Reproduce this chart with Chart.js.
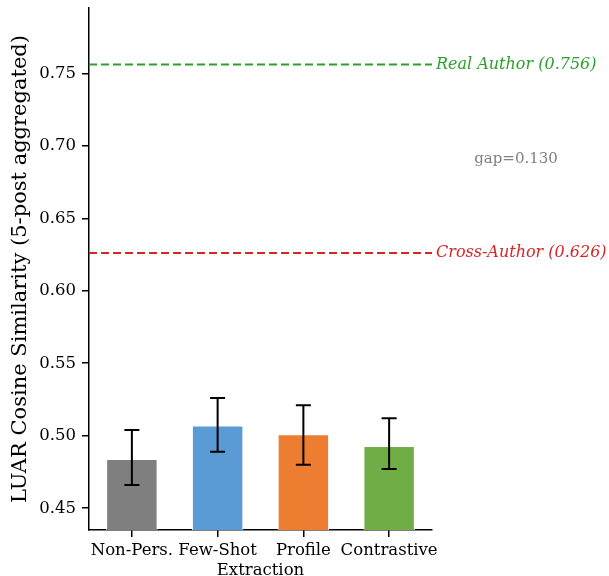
<!DOCTYPE html>
<html>
<head>
<meta charset="utf-8">
<script src="https://cdn.jsdelivr.net/npm/chart.js@4/dist/chart.umd.min.js"></script>
<style>
  html, body { margin: 0; padding: 0; background: #fff; }
  #wrap { width: 609px; height: 576px; }
</style>
</head>
<body>
<div id="wrap"><canvas id="chart" width="609" height="576"></canvas></div>
<script>
// categories and values
const categories = ["Non-Pers.", "Few-Shot", "Profile", "Contrastive"];
const means = [0.484, 0.507, 0.501, 0.493];
const errLow = [0.466, 0.489, 0.480, 0.477];
const errHigh = [0.504, 0.526, 0.521, 0.512];
const barColors = ["#7f7f7f", "#5b9bd5", "#ed7d31", "#70ad47"];
const yTicks = [0.45, 0.50, 0.55, 0.60, 0.65, 0.70, 0.75];
// reference lines
const refValues = [0.756, 0.626];
const refLabels = ["Real Author (0.756)", "Cross-Author (0.626)"];
const refColors = ["#2ca02c", "#d62728"];
const gapLabel = "gap=0.130";

const SERIF = "'DejaVu Serif', serif";

//draws the error bars and the reference lines with their labels
const extras = {
  id: "extras",
  afterDatasetsDraw(chart) {
    const ctx = chart.ctx;
    const y = chart.scales.y;
    const area = chart.chartArea;
    const bars = chart.getDatasetMeta(0).data;
    ctx.save();
    ctx.strokeStyle = "#000";
    ctx.lineWidth = 2;
    bars.forEach((bar, i) => {
      const x = bar.x;
      const yl = y.getPixelForValue(errLow[i]);
      const yh = y.getPixelForValue(errHigh[i]);
      ctx.beginPath();
      ctx.moveTo(x, yl); ctx.lineTo(x, yh);
      ctx.moveTo(x - 7.5, yl); ctx.lineTo(x + 7.5, yl);
      ctx.moveTo(x - 7.5, yh); ctx.lineTo(x + 7.5, yh);
      ctx.stroke();
    });
    // dashed lines
    ctx.setLineDash([8, 4]);
    ctx.lineWidth = 2;
    refValues.forEach((v, i) => {
      const py = y.getPixelForValue(v);
      ctx.strokeStyle = refColors[i];
      ctx.beginPath();
      ctx.moveTo(area.left, py);
      ctx.lineTo(area.right, py);
      ctx.stroke();
      ctx.fillStyle = refColors[i];
      ctx.font = "italic 16px " + SERIF;
      ctx.textAlign = "left";
      ctx.textBaseline = "middle";
      ctx.fillText(refLabels[i], area.right + 4, py);
    });
    ctx.setLineDash([]);
    const mid = (refValues[0] + refValues[1]) / 2;
    ctx.fillStyle = "#808080";
    ctx.font = "15px " + SERIF;
    ctx.textAlign = "center";
    ctx.fillText(gapLabel, area.right + 84, y.getPixelForValue(mid));
    ctx.restore();
  }
};

new Chart(document.getElementById("chart"), {
  type: "bar",
  plugins: [extras],
  data: {
    labels: categories,
    datasets: [{
      data: means,
      backgroundColor: barColors,
      borderColor: "#ffffff",
      borderWidth: 1,
      barPercentage: 0.6,
      categoryPercentage: 1.0
    }]
  },
  options: {
    responsive: false,
    animation: false,
    layout: { padding: { left: 0, right: 177, top: 8, bottom: 0 } },
    plugins: { legend: { display: false }, tooltip: { enabled: false } },
    scales: {
      x: {
        grid: { offset: false, drawOnChartArea: false, drawTicks: true, tickLength: 7, color: "#000", lineWidth: 1.5 },
        border: { display: true, color: "#000", width: 1.5 },
        ticks: { color: "#000", font: { family: SERIF, size: 16.5 }, autoSkip: false, maxRotation: 0, padding: 4 },
        title: { display: true, text: "Extraction", color: "#000", font: { family: SERIF, size: 16.5, lineHeight: 1 }, padding: { top: 0, bottom: -3 } },
        afterFit: (s) => { s.height = 46; s.paddingLeft = 0; s.paddingRight = 0; }
      },
      y: {
        min: 0.435,
        max: 0.795,
        afterBuildTicks: (s) => { s.ticks = yTicks.map(v => ({ value: v })); },
        grid: { drawOnChartArea: false, drawTicks: true, tickLength: 7, color: "#000", lineWidth: 1.5 },
        border: { display: true, color: "#000", width: 1.5 },
        ticks: { color: "#000", font: { family: SERIF, size: 16.5 }, padding: 6, callback: (v) => v.toFixed(2) },
        title: { display: true, text: "LUAR Cosine Similarity (5-post aggregated)", color: "#000", font: { family: SERIF, size: 21 }, padding: { top: 8, bottom: 0 } },
        afterFit: (s) => { s.width = 89; s.paddingTop = 0; s.paddingBottom = 0; }
      }
    }
  }
});
</script>
</body>
</html>
